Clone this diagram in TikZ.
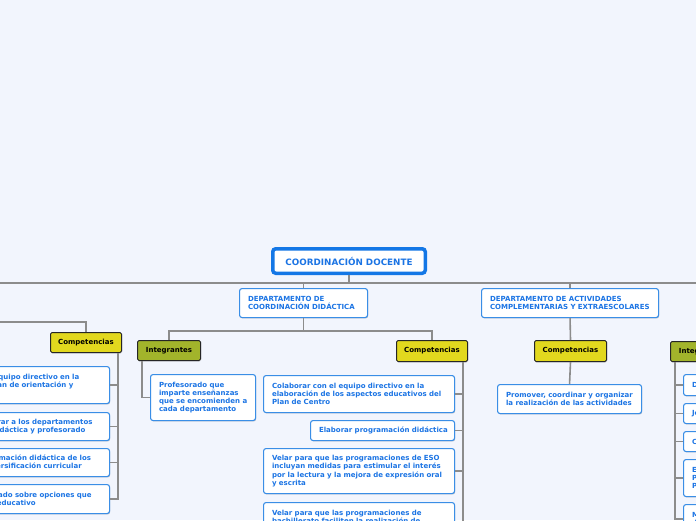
\documentclass[tikz,border=0pt]{standalone}
\usepackage{fontspec}
\setmainfont{DejaVu Sans}
\usetikzlibrary{shadows}
\definecolor{bgc}{RGB}{242,245,253}
\definecolor{connc}{RGB}{140,140,140}
\definecolor{leafb}{RGB}{58,142,230}
\definecolor{leaft}{RGB}{27,116,228}
\definecolor{rootb}{RGB}{20,119,230}
\definecolor{yel}{RGB}{226,216,30}
\definecolor{oli}{RGB}{162,180,43}
\newcommand\li[1]{\mbox{#1}}
\tikzset{
  conn/.style={draw=connc, line width=1.6pt},
  softshadow/.style={drop shadow={shadow xshift=0.6pt, shadow yshift=-0.9pt, opacity=0.22, fill=black}},
  leaf/.style={draw=leafb, fill=white, rounded corners=2.5pt, line width=1.1pt, text=leaft,
    font=\fontsize{7}{8.3}\selectfont\bfseries, align=left, inner xsep=8.5pt, inner ysep=0pt,
    anchor=north west, softshadow},
  tag/.style={draw=black!85, rounded corners=1.5pt, line width=1pt, text=black,
    font=\fontsize{7}{8.3}\selectfont\bfseries, inner sep=0pt, anchor=north west, softshadow},
  yeltag/.style={tag, fill=yel},
  olitag/.style={tag, fill=oli},
  rootbox/.style={draw=rootb, fill=white, rounded corners=3pt, line width=3.5pt, text=leaft,
    font=\fontsize{8.8}{10}\selectfont\bfseries, inner sep=0pt, minimum width=152.5pt,
    minimum height=24.5pt, softshadow},
}
\begin{document}
\begin{tikzpicture}[x=1pt,y=-1pt]
\useasboundingbox (0,0) rectangle (696,520);
\clip (0,0) rectangle (696,520);
\fill[bgc] (0,0) rectangle (696,520);

% main horizontal
\coordinate (hl) at (-5,283);
\coordinate (hr) at (701,283);
\draw[conn] (hl) -- (hr);

% root
\node[rootbox] (root) at (349,261) {COORDINACIÓN DOCENTE};
\draw[conn] (root.south) -- (root.south |- hl);

% departments
\node[leaf, text width=111pt, minimum height=29pt] (dd) at (239,288)
  {\li{DEPARTAMENTO DE}\\\li{COORDINACIÓN DIDÁCTICA}};
\node[leaf, text width=160pt, minimum height=29pt] (da) at (481,288)
  {\li{DEPARTAMENTO DE ACTIVIDADES}\\\li{COMPLEMENTARIAS Y EXTRAESCOLARES}};
\draw[conn] (dd.north) -- (dd.north |- hl);
\draw[conn] (da.north) -- (da.north |- hl);

% tags
\node[yeltag, minimum width=71pt, minimum height=20pt] (compl) at (50,332) {Competencias};
\node[olitag, minimum width=63pt, minimum height=20pt] (intm) at (137,340) {Integrantes};
\node[yeltag, minimum width=71pt, minimum height=21pt] (compm) at (396,340) {Competencias};
\node[yeltag, minimum width=72pt, minimum height=21pt] (compr) at (534,340) {Competencias};
\node[olitag, minimum width=63pt, minimum height=20pt] (intr) at (670,341) {Integrantes};

% dept didactica -> tags
\coordinate (j1) at (0,331);
\draw[conn] (dd.south) -- (dd.south |- j1);
\draw[conn] (intm.north) -- (intm.north |- j1) -- (compm.north |- j1) -- (compm.north);

% left parent -> competencias
\coordinate (lo) at (-5,322);
\draw[conn] (lo) -- (lo -| compl.north) -- (compl.north);

% actividades -> competencias -> leaf
\draw[conn] (da.south) -- (compr.north);
\node[leaf, text width=127pt, minimum height=29pt] (prom) at (497,384)
  {\li{Promover, coordinar y organizar}\\\li{la realización de las actividades}};
\draw[conn] (compr.south) -- (prom.north);

% integrantes (middle)
\node[leaf, text width=88pt, minimum height=46pt] (prof) at (150,374)
  {\li{Profesorado que}\\\li{imparte enseñanzas}\\\li{que se encomienden a}\\\li{cada departamento}};
\draw[conn] ([xshift=5pt]intm.south west) |- (prof.west);

% competencias (middle)
\node[leaf, text width=174pt, minimum height=37pt] (m1) at (263,375)
  {\li{Colaborar con el equipo directivo en la}\\\li{elaboración de los aspectos educativos del}\\\li{Plan de Centro}};
\node[leaf, text width=127pt, minimum height=20pt] (m2) at (310,420)
  {\li{Elaborar programación didáctica}};
\node[leaf, text width=174pt, minimum height=45pt] (m3) at (263,448)
  {\li{Velar para que las programaciones de ESO}\\\li{incluyan medidas para estimular el interés}\\\li{por la lectura y la mejora de expresión oral}\\\li{y escrita}};
\node[leaf, text width=174pt, minimum height=29pt] (m4) at (263,502)
  {\li{Velar para que las programaciones de}\\\li{bachillerato faciliten la realización de}};
\coordinate (mv) at ([xshift=-5pt]compm.south east);
\coordinate (mbot) at (462,530);
\draw[conn] (mv) -- (mv |- mbot);
\foreach \n in {m1,m2,m3} \draw[conn] (\n.east) -- (\n.east -| mv);

% competencias (left)
\node[leaf, text width=174pt, minimum height=37pt] (l1) at (-82,366)
  {\li{Colaborar con el equipo directivo en la}\\\li{elaboración del plan de orientación y}\\\li{acción tutorial}};
\node[leaf, text width=174pt, minimum height=28pt] (l2) at (-82,412)
  {\li{Colaborar y asesorar a los departamentos}\\\li{de coordinación didáctica y profesorado}};
\node[leaf, text width=174pt, minimum height=28pt] (l3) at (-82,448)
  {\li{Elaborar la programación didáctica de los}\\\li{programas de diversificación curricular}};
\node[leaf, text width=174pt, minimum height=29pt] (l4) at (-82,484)
  {\li{Asesorar al alumnado sobre opciones que}\\\li{ofrece el sistema educativo}};
\coordinate (lv) at ([xshift=-4pt]compl.south east);
\draw[conn] (lv) |- (l4.east);
\foreach \n in {l1,l2,l3} \draw[conn] (\n.east) -- (\n.east -| lv);

% integrantes (right)
\node[leaf, text width=120pt, minimum height=21pt] (r1) at (683,374) {\li{Dirección}};
\node[leaf, text width=120pt, minimum height=20pt] (r2) at (683,403) {\li{Jefatura de estudios}};
\node[leaf, text width=120pt, minimum height=20pt] (r3) at (683,431) {\li{Coordinación de áreas}};
\node[leaf, text width=120pt, minimum height=37pt] (r4) at (683,459) {\li{Equipo}\\\li{Profesorado}\\\li{Plan}};
\node[leaf, text width=120pt, minimum height=29pt] (r5) at (683,504) {\li{Miembros}\\\li{del centro}};
\coordinate (rv) at ([xshift=5pt]intr.south west);
\draw[conn] (rv) |- (r5.west);
\foreach \n in {r1,r2,r3,r4} \draw[conn] (\n.west) -- (\n.west -| rv);
\end{tikzpicture}
\end{document}
